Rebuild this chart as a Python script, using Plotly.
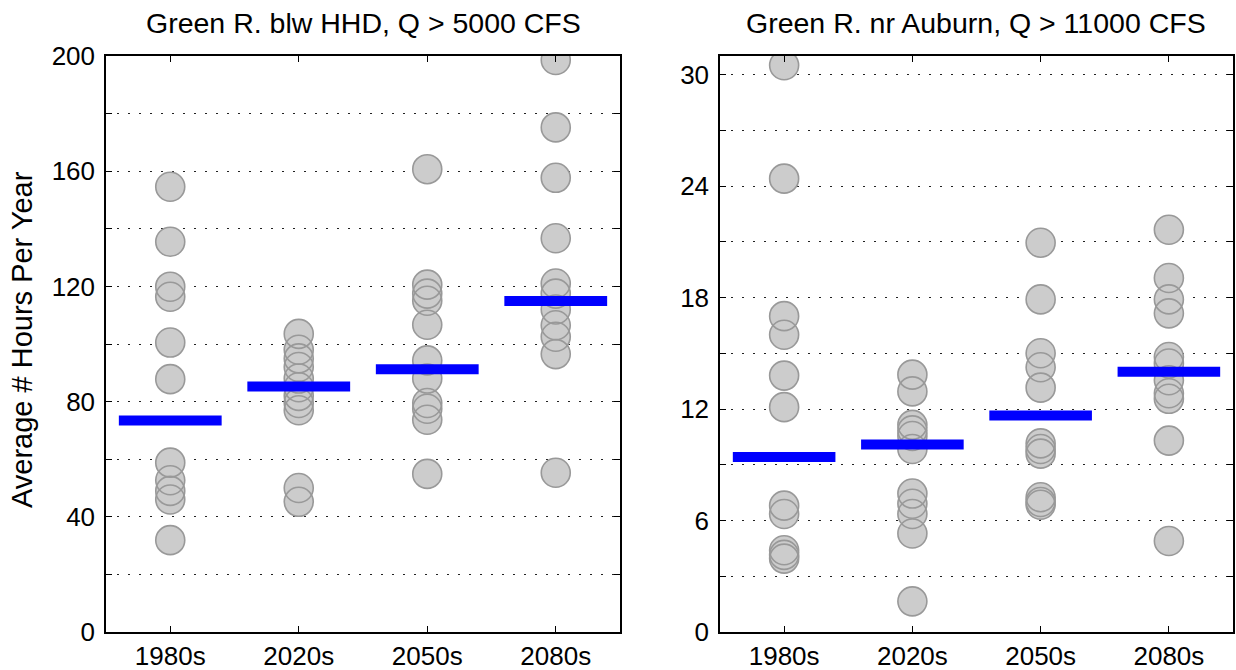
import plotly.graph_objects as go

# Decades on the x axis
decades = ["1980s", "2020s", "2050s", "2080s"]

# Green R. below HHD, hours per year with Q > 5000 cfs (one value per model run)
hhd_1980s = [154.6, 135.5, 119.9, 116.4, 100.5, 87.8, 58.8, 52.7, 49.0, 46.0, 31.9]
hhd_2020s = [103.5, 98.0, 95.0, 92.0, 88.0, 85.0, 82.0, 79.5, 77.0, 50.0, 45.2]
hhd_2050s = [160.7, 120.6, 117.5, 115.0, 106.7, 94.3, 88.0, 79.5, 77.5, 73.7, 54.9]
hhd_2080s = [198.6, 175.2, 157.7, 136.7, 121.0, 117.5, 112.0, 106.5, 102.5, 96.5, 55.3]
hhd_summary = [73.4, 85.2, 91.2, 114.9]

# Green R. near Auburn, hours per year with Q > 11000 cfs
aub_1980s = [30.5, 24.4, 17.0, 16.0, 13.8, 12.1, 6.8, 6.35, 4.4, 4.15, 3.95]
aub_2020s = [13.85, 12.95, 11.15, 10.85, 10.55, 9.85, 7.45, 6.9, 6.35, 5.3, 1.65]
aub_2050s = [20.95, 17.9, 15.0, 14.25, 13.15, 10.15, 9.85, 9.6, 7.25, 7.0, 6.85]
aub_2080s = [21.65, 19.05, 17.9, 17.15, 14.8, 14.45, 13.55, 12.85, 12.55, 10.3, 4.9]
aub_summary = [9.42, 10.09, 11.65, 14.0]

hhd_runs = [hhd_1980s, hhd_2020s, hhd_2050s, hhd_2080s]
aub_runs = [aub_1980s, aub_2020s, aub_2050s, aub_2080s]

hhd_ticks = list(range(0, 201, 20))
aub_ticks = list(range(0, 31, 3))

FONT = "Liberation Sans, Arial, Helvetica, sans-serif"
FILL = "#cccccc"
EDGE = "#999999"
BAR = "#0000ff"
HALF = 0.4  # half-width of the summary bar, in category units

fig = go.Figure()


def add_panel(runs, summary, xa, ya):
    xs, ys = [], []
    for i, vals in enumerate(runs):
        xs += [i + 1] * len(vals)
        ys += vals
    # filled discs first, then all outlines on top so overlaps stay visible
    fig.add_trace(go.Scatter(
        x=xs, y=ys, mode="markers", xaxis=xa, yaxis=ya, showlegend=False,
        marker=dict(size=29, color=FILL, line=dict(width=0)),
        hoverinfo="skip"))
    fig.add_trace(go.Scatter(
        x=xs, y=ys, mode="markers", xaxis=xa, yaxis=ya, showlegend=False,
        marker=dict(size=29, color="rgba(0,0,0,0)",
                    line=dict(width=1.6, color=EDGE))))
    bx, by = [], []
    for i, v in enumerate(summary):
        bx += [i + 1 - HALF, i + 1 + HALF, None]
        by += [v, v, None]
    fig.add_trace(go.Scatter(
        x=bx, y=by, mode="lines", xaxis=xa, yaxis=ya, showlegend=False,
        line=dict(color=BAR, width=10)))


add_panel(hhd_runs, hhd_summary, "x", "y")
add_panel(aub_runs, aub_summary, "x2", "y2")

xcommon = dict(
    range=[0.5, 4.5], tickvals=[1, 2, 3, 4], ticktext=decades,
    showgrid=False, zeroline=False, showline=True, linecolor="black",
    linewidth=1.5, mirror="ticks", ticks="inside", ticklen=6,
    tickcolor="black", tickwidth=1, automargin=False,
    tickfont=dict(family=FONT, size=26, color="black"),
)


def ycommon(ticks, label_every, top):
    return dict(
        range=[0, top], tickvals=ticks,
        ticktext=[str(t) if (k % label_every == 0) else "" for k, t in enumerate(ticks)],
        showgrid=True, gridcolor="#222222", gridwidth=1, griddash="2px,9px",
        zeroline=False, showline=True, linecolor="black", linewidth=1.5,
        mirror="ticks", ticks="inside", ticklen=6, tickcolor="black",
        tickwidth=1, ticklabelstandoff=4, automargin=False,
        tickfont=dict(family=FONT, size=26, color="black"),
    )


W, H = 1236, 670
left_dom = [106 / W, 620 / W]
right_dom = [720 / W, 1233 / W]
y_dom = [38 / H, 614 / H]

fig.update_layout(
    width=W, height=H,
    margin=dict(l=0, r=0, t=0, b=0, autoexpand=False),
    paper_bgcolor="white", plot_bgcolor="white",
    xaxis=dict(domain=left_dom, anchor="y", **xcommon),
    yaxis=dict(domain=y_dom, anchor="x", **ycommon(hhd_ticks, 2, 200)),
    xaxis2=dict(domain=right_dom, anchor="y2", **xcommon),
    yaxis2=dict(domain=y_dom, anchor="x2", **ycommon(aub_ticks, 2, 31)),
    annotations=[
        dict(text="Green R. blw HHD, Q > 5000 CFS", x=sum(left_dom) / 2,
             y=1 - 23 / H, xref="paper", yref="paper", showarrow=False,
             xanchor="center", yanchor="middle",
             font=dict(family=FONT, size=28.5, color="black")),
        dict(text="Green R. nr Auburn, Q > 11000 CFS", x=sum(right_dom) / 2,
             y=1 - 23 / H, xref="paper", yref="paper", showarrow=False,
             xanchor="center", yanchor="middle",
             font=dict(family=FONT, size=28.5, color="black")),
        dict(text="Average # Hours Per Year", x=22 / W, y=1 - 340 / H,
             xref="paper", yref="paper", showarrow=False, textangle=-90,
             xanchor="center", yanchor="middle",
             font=dict(family=FONT, size=29, color="black")),
    ],
)

fig.write_html("out.html")
